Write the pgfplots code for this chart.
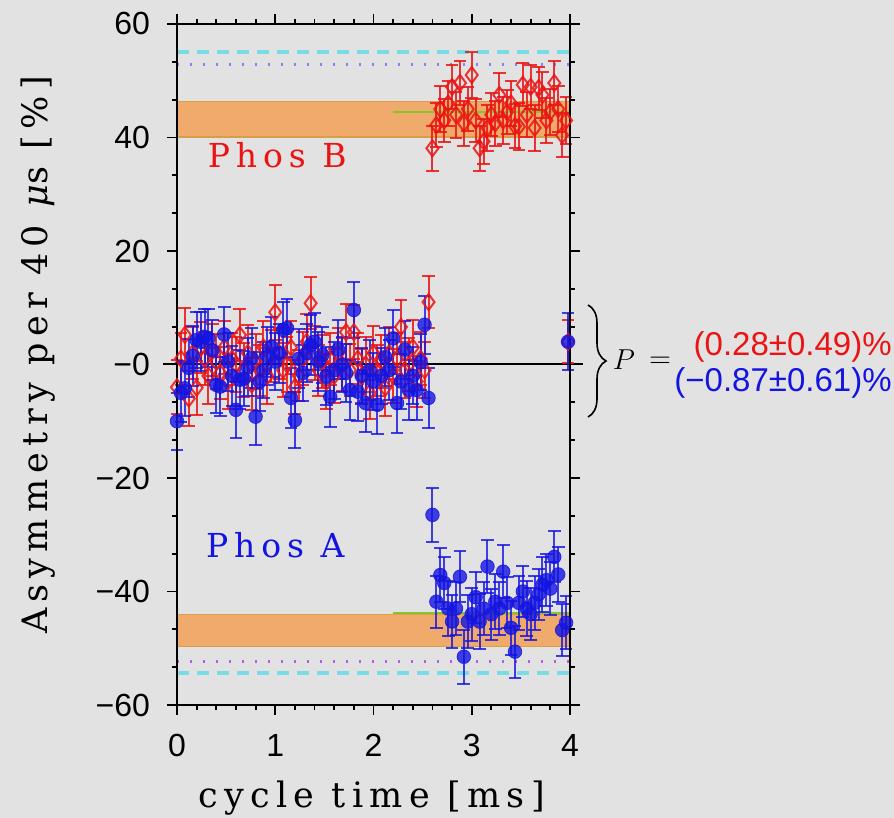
\documentclass[border=0pt]{standalone}
\usepackage{pgfplots}
\pgfplotsset{compat=1.18}
\usepackage{pgfplotstable}
\usetikzlibrary{decorations.pathreplacing}
\usepackage{fontspec}
\newfontfamily\labelfont{DejaVu Serif}[LetterSpace=18]
\newfontfamily\tickfont{Liberation Sans}
\definecolor{bg}{RGB}{226,226,226}
\definecolor{pred}{RGB}{235,20,20}
\definecolor{pblue}{RGB}{20,20,225}
\definecolor{band}{RGB}{242,165,95}
\definecolor{bandedge}{RGB}{215,160,70}
\definecolor{gline}{RGB}{130,200,40}
\definecolor{cyanl}{RGB}{120,220,230}
\definecolor{bdot}{RGB}{130,130,255}
\definecolor{pdot}{RGB}{185,90,235}

\pgfplotstableread{
x y e
0.00 -4.0 4.8
0.04 1.0 4.6
0.08 5.2 4.7
0.12 -6.0 4.9
0.16 2.0 4.6
0.20 -4.1 4.8
0.24 3.0 4.5
0.28 1.0 4.7
0.32 -2.0 4.9
0.36 2.5 4.6
0.40 0.5 4.8
0.44 -1.5 4.5
0.48 3.0 4.7
0.52 -3.0 4.9
0.56 1.0 4.6
0.60 0.0 4.8
0.64 5.2 4.5
0.68 -1.0 4.7
0.72 2.0 4.9
0.76 -3.5 4.6
0.80 0.5 4.8
0.84 -1.0 4.5
0.88 3.0 4.7
0.92 -2.0 4.9
0.96 1.5 4.6
1.00 9.2 4.8
1.04 2.0 4.5
1.08 -1.0 4.7
1.12 0.0 4.9
1.16 3.0 4.6
1.20 -4.0 4.8
1.24 -2.0 4.5
1.28 1.0 4.7
1.32 4.0 4.9
1.36 10.8 4.6
1.40 2.0 4.8
1.44 -1.0 4.5
1.48 0.5 4.7
1.52 -3.0 4.9
1.56 1.0 4.6
1.60 -2.0 4.8
1.64 2.0 4.5
1.68 0.0 4.7
1.72 5.7 4.9
1.76 -1.0 4.6
1.80 5.7 4.8
1.84 1.0 4.5
1.88 -2.0 4.7
1.92 0.0 4.9
1.96 -5.0 4.6
2.00 2.0 4.8
2.04 -1.0 4.5
2.08 0.5 4.7
2.12 -4.1 4.9
2.16 2.0 4.6
2.20 -2.0 4.8
2.24 1.0 4.5
2.28 6.6 4.7
2.32 -1.0 4.9
2.36 0.0 4.6
2.40 3.0 4.8
2.44 -3.0 4.5
2.48 1.0 4.7
2.52 -1.0 4.9
2.56 11.0 4.6
2.60 38.1 4.0
2.64 42.2 3.9
2.68 45.0 4.1
2.72 43.0 3.8
2.76 46.0 4.0
2.80 48.9 3.9
2.84 44.0 4.1
2.88 49.6 3.8
2.92 42.5 4.0
2.96 45.0 3.9
3.00 51.0 4.1
3.04 43.0 3.8
3.08 38.1 4.0
3.12 39.3 3.9
3.16 41.7 4.1
3.20 44.0 3.8
3.24 42.5 4.0
3.28 47.5 3.9
3.32 43.0 4.1
3.36 44.5 3.8
3.40 46.0 4.0
3.44 42.0 3.9
3.48 41.9 4.1
3.52 49.3 3.8
3.56 44.0 4.0
3.60 48.9 3.9
3.64 41.7 4.1
3.68 48.7 3.8
3.72 47.5 4.0
3.76 43.0 3.9
3.80 44.5 4.1
3.84 49.6 3.8
3.88 45.0 4.0
3.92 40.4 3.9
3.96 43.0 4.1
3.98 4.0 3.8
}\redtab

\pgfplotstableread{
x y e
0.00 -10.0 5.0
0.04 -5.0 5.2
0.08 -4.2 4.9
0.12 -0.6 5.1
0.16 1.5 5.3
0.20 4.3 5.0
0.24 4.0 5.2
0.28 4.9 4.9
0.32 4.6 5.1
0.36 2.5 5.3
0.40 -3.6 5.0
0.44 -3.9 5.2
0.48 5.3 4.9
0.52 0.5 5.1
0.56 -2.0 5.3
0.60 -8.0 5.0
0.64 -2.7 5.2
0.68 -2.5 4.9
0.72 -0.5 5.1
0.76 1.1 5.3
0.80 -9.2 5.0
0.84 -3.0 5.2
0.88 -1.0 4.9
0.92 1.5 5.1
0.96 3.1 5.3
1.00 0.5 5.0
1.04 2.0 5.2
1.08 6.1 4.9
1.12 6.4 5.1
1.16 -5.9 5.3
1.20 -9.8 5.0
1.24 1.0 5.2
1.28 -1.5 4.9
1.32 2.0 5.1
1.36 3.4 5.3
1.40 4.0 5.0
1.44 0.5 5.2
1.48 1.7 4.9
1.52 -2.0 5.1
1.56 -5.7 5.3
1.60 -1.0 5.0
1.64 2.6 5.2
1.68 0.0 4.9
1.72 -1.5 5.1
1.76 -4.5 5.3
1.80 9.6 5.0
1.84 -4.8 5.2
1.88 -2.0 4.9
1.92 -6.8 5.1
1.96 -1.0 5.3
2.00 -3.0 5.0
2.04 -7.1 5.2
2.08 -2.0 4.9
2.12 1.3 5.1
2.16 -1.0 5.3
2.20 4.6 5.0
2.24 -6.8 5.2
2.28 -3.0 4.9
2.32 2.6 5.1
2.36 -4.5 5.3
2.40 -2.0 5.0
2.44 -4.5 5.2
2.48 0.4 4.9
2.52 7.0 5.1
2.56 -5.9 5.3
2.60 -26.5 4.8
2.64 -41.8 4.6
2.68 -37.1 4.7
2.72 -38.5 4.5
2.76 -43.0 4.8
2.80 -45.3 4.6
2.84 -43.0 4.7
2.88 -37.4 4.5
2.92 -51.5 4.8
2.96 -45.3 4.6
3.00 -44.0 4.7
3.04 -41.0 4.5
3.08 -45.3 4.8
3.12 -43.0 4.6
3.16 -35.6 4.7
3.20 -44.0 4.5
3.24 -41.8 4.8
3.28 -43.0 4.6
3.32 -36.5 4.7
3.36 -42.0 4.5
3.40 -46.4 4.8
3.44 -50.6 4.6
3.48 -42.0 4.7
3.52 -40.0 4.5
3.56 -43.0 4.8
3.60 -44.0 4.6
3.64 -42.0 4.7
3.68 -40.5 4.5
3.72 -38.8 4.8
3.76 -38.0 4.6
3.80 -39.5 4.7
3.84 -33.9 4.5
3.88 -37.0 4.8
3.92 -46.8 4.6
3.96 -45.5 4.7
3.98 4.0 5.0
}\bluetab

\begin{document}
\begin{tikzpicture}
\useasboundingbox (0,0) rectangle (447pt,409pt);
\fill[bg] (0,0) rectangle (447pt,409pt);
\begin{axis}[
  at={(88.5pt,56.5pt)}, anchor=south west,
  scale only axis, width=196.5pt, height=340.5pt,
  xmin=0, xmax=4, ymin=-60, ymax=60,
  clip=false,
  axis on top,
  axis line style={line width=1pt, black},
  xtick={0,1,2,3,4}, xticklabels={0,1,2,3,4},
  ytick={-60,-40,-20,0,20,40,60},
  yticklabels={−60,−40,−20,−0,20,40,60},
  minor x tick num=4, minor y tick num=2,
  tick align=outside, tick pos=both,
  major tick length=5pt, minor tick length=2.5pt,
  every tick/.style={line width=0.9pt, black},
  ticklabel style={font=\tickfont\fontsize{16}{18}\selectfont},
  xticklabel style={yshift=-6pt},
  yticklabel style={xshift=-5pt},
  xlabel={cycle time [ms]},
  ylabel={Asymmetry per 40 {\itshape μ}s [\%]},
  label style={font=\labelfont\fontsize{17.5}{20}\selectfont},
  xlabel style={at={(axis description cs:0.495,-0.1366)}, anchor=center},
  ylabel style={at={(axis description cs:-0.3537,0.514)}, anchor=center},
]
% bands
\addplot[draw=bandedge, line width=0.6pt, fill=band, fill opacity=0.9] coordinates {(0,40.1) (4,40.1) (4,46.4) (0,46.4)} -- cycle;
\addplot[draw=bandedge, line width=0.6pt, fill=band, fill opacity=0.9] coordinates {(0,-44.0) (4,-44.0) (4,-49.7) (0,-49.7)} -- cycle;
% reference lines
\addplot[cyanl, line width=2pt, dash pattern=on 6pt off 4pt] coordinates {(0,55.0) (4,55.0)};
\addplot[bdot, line width=1.5pt, dash pattern=on 1pt off 5.5pt] coordinates {(0,52.9) (4,52.9)};
\addplot[pdot, line width=1.5pt, dash pattern=on 1pt off 5.5pt] coordinates {(0,-52.4) (4,-52.4)};
\addplot[cyanl, line width=2pt, dash pattern=on 6pt off 4pt] coordinates {(0,-54.4) (4,-54.4)};
\addplot[gline, line width=1.2pt] coordinates {(2.2,44.5) (4,44.5)};
\addplot[gline, line width=1.2pt] coordinates {(2.2,-43.8) (4,-43.8)};
\addplot[black, line width=1pt] coordinates {(-0.14,0) (4.13,0)};
% data
\addplot[only marks, pred, mark=diamond, mark size=4pt,
  mark options={line width=1pt, fill=none, draw=pred},
  opacity=0.85,
  error bars/.cd, y dir=both, y explicit,
  error bar style={line width=1pt, pred},
  error mark options={line width=1pt, pred, mark size=3.2pt, rotate=90}]
  table[x=x, y=y, y error=e] {\redtab};
\addplot[only marks, pblue, mark=*, mark size=3.4pt,
  mark options={fill=pblue, draw=pblue},
  opacity=0.8,
  error bars/.cd, y dir=both, y explicit,
  error bar style={line width=1pt, pblue},
  error mark options={line width=1pt, pblue, mark size=3.2pt, rotate=90}]
  table[x=x, y=y, y error=e] {\bluetab};
% annotations
\node[pred, font=\labelfont\fontsize{16.5}{18}\selectfont] at (axis cs:1.02,36.9) {Phos B};
\node[pblue, font=\labelfont\fontsize{16.5}{18}\selectfont] at (axis cs:1.0,-31.8) {Phos A};
\end{axis}
\draw[line width=0.8pt, decorate, decoration={brace, amplitude=9pt}] (294pt,256.5pt) -- (294pt,200.5pt);
\node[font=\fontsize{15}{17}\selectfont] at (312pt,229pt) {$P$};
\node[font=\fontsize{15}{17}\selectfont] at (330pt,228pt) {$=$};
\node[anchor=east, pred, font=\tickfont\fontsize{16.5}{18}\selectfont, inner sep=0pt] at (446pt,235.5pt) {(0.28±0.49)\%};
\node[anchor=east, pblue, font=\tickfont\fontsize{16.5}{18}\selectfont, inner sep=0pt] at (446pt,217.5pt) {(−0.87±0.61)\%};
\end{tikzpicture}
\end{document}
